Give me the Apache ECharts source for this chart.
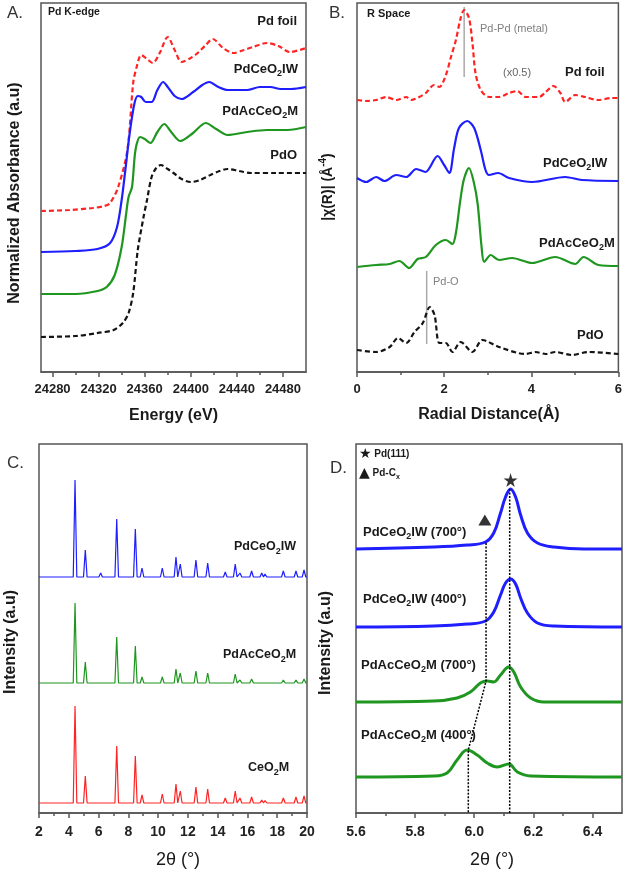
<!DOCTYPE html>
<html><head><meta charset="utf-8">
<script src="https://cdn.jsdelivr.net/npm/echarts@6/dist/echarts.min.js"></script>
<style>html,body{margin:0;padding:0;background:#fff}#c{width:625px;height:874px}</style>
</head><body><div id="c"></div>
<script>
// ---------- Panel A: XANES (energy eV, absorbance a.u. with offsets) ----------
const energyTicks = [24280, 24320, 24360, 24400, 24440, 24480];
const energyMinorTicks = [24300, 24340, 24380, 24420, 24460];
const xanesPdFoil = [[24270,161],[24295,162],[24315,164],[24325,166],[24330,169],[24337,185],[24345,222],[24350,289],[24353,305],[24357,317],[24362,313],[24367,309],[24373,319],[24380,335],[24386,322],[24392,310],[24400,314],[24406,319],[24413,327],[24419,333],[24428,324],[24437,319],[24446,322],[24454,325],[24466,329],[24476,326],[24486,320],[24500,324]];
const xanesPdCeO2IW = [[24270,120],[24300,121],[24319,123],[24330,129],[24336,145],[24340,172],[24343,200],[24347,239],[24351,268],[24354,276],[24357,275],[24361,270],[24366,270],[24371,282],[24376,290],[24380,285],[24386,276],[24392,273],[24402,280],[24410,287],[24416,290],[24424,285],[24432,282],[24449,282],[24460,285],[24469,285],[24478,283],[24487,283],[24500,285]];
const xanesPdAcCeO2M = [[24270,78],[24300,78],[24319,81],[24327,85],[24334,97],[24340,125],[24344,159],[24346,175],[24349,185],[24352,222],[24356,235],[24360,233],[24365,229],[24371,240],[24377,248],[24383,240],[24391,231],[24402,239],[24413,249],[24422,243],[24432,237],[24449,240],[24466,242],[24484,242],[24500,245]];
const xanesPdO = [[24270,35],[24300,36],[24319,39],[24333,42],[24341,49],[24346,59],[24350,79],[24354,122],[24359,155],[24362,172],[24366,195],[24370,204],[24374,207],[24380,203],[24385,199],[24392,193],[24400,190],[24408,192],[24417,197],[24425,201],[24432,203],[24442,201],[24452,199],[24475,199],[24500,199]];

// ---------- Panel B: R space |chi(R)| ----------
const rPdFoil = [[0,272],[0.21,271],[0.44,272],[0.67,275],[0.9,272],[1.13,275],[1.24,272],[1.43,275],[1.58,279],[1.77,287],[1.89,285],[2.04,297],[2.15,314],[2.27,332],[2.38,354],[2.46,362],[2.57,354],[2.65,329],[2.72,299],[2.84,282],[3.03,275],[3.26,275],[3.49,279],[3.68,281],[3.87,275],[4.18,275],[4.33,280],[4.51,286],[4.67,279],[4.78,270],[5.01,277],[5.24,275],[5.54,272],[5.85,274],[6,274]];
const rPdCeO2IW = [[0,194],[0.21,190],[0.44,195],[0.63,191],[0.9,197],[1.13,195],[1.36,203],[1.57,200],[1.85,216],[2.0,207],[2.12,199],[2.23,224],[2.34,244],[2.53,251],[2.69,244],[2.84,222],[2.95,202],[3.03,197],[3.24,199],[3.49,194],[4.02,190],[4.78,195],[5.16,192],[6,191]];
const rPdAcCeO2M = [[0,105],[0.44,107],[0.75,108],[0.97,111],[1.2,104],[1.39,113],[1.58,115],[1.81,127],[2.04,132],[2.19,128],[2.27,139],[2.36,168],[2.45,192],[2.57,204],[2.68,190],[2.77,168],[2.86,125],[2.92,110],[3.07,117],[3.26,112],[3.56,114],[4.02,109],[4.55,115],[5.01,108],[5.2,115],[5.54,107],[6,106]];
const rPdO = [[0,22],[0.44,20],[0.75,25],[0.94,34],[1.13,29],[1.32,40],[1.51,49],[1.67,65],[1.78,57],[1.89,29],[2.04,29],[2.19,20],[2.38,30],[2.65,20],[2.88,32],[3.26,25],[3.87,18],[4.1,20],[4.33,18],[4.55,20],[4.93,17],[5.31,20],[6,18]];
const rPdPdRef = [[2.46,295],[2.46,365]];
const rPdORef = [[1.6,28],[1.6,101]];

// ---------- Panel C: XRD peaks (2theta, heights per sample) ----------
const xrdPeaks = [3.3,4.42,5.11,6.14,7.22,8.47,8.92,10.28,11.2,11.49,12.54,13.33,14.51,15.18,15.5,16.28,16.96,17.18,17.85,18.41,19.26,19.8];
const xrdPdCeO2IW = [238,333,263,240,294,284,245,245,256,249,253,250,241,249,240,242,240,239,237,242,242,243];
const xrdPdAcCeO2M = [131,210,151,131.5,176,167,136,136,144,140,142,140,132,139,133,134,131.5,131,130.5,133,133,134];
const xrdCeO2M = [10.5,107,37,11,67,57,18,19,29,22,26,24,15,22,15,16,13,12.5,11,15,16,17];
const xrdBaseIW = 236, xrdBaseAc = 130, xrdBaseCe = 10;
const xrdPeakHalfWidth = 0.12;

// ---------- Panel D: zoomed XRD ----------
const thetaTicks = [5.6, 5.8, 6.0, 6.2, 6.4];
const thetaMinorTicks = [5.7, 5.9, 6.1, 6.3];
const dIW700 = [[5.6,264],[5.863,266],[5.976,268],[6.038,271],[6.066,280],[6.089,300],[6.106,316],[6.123,324],[6.14,316],[6.157,298],[6.18,280],[6.214,270],[6.27,266],[6.372,264],[6.5,264]];
const dIW400 = [[5.6,186],[5.863,187],[5.976,189],[6.038,192],[6.066,201],[6.089,218],[6.106,230],[6.123,234],[6.14,229],[6.157,215],[6.18,200],[6.214,190],[6.27,187],[6.5,186]];
const dAc700 = [[5.6,111],[5.863,112],[5.942,115],[5.987,121],[6.021,130],[6.044,132],[6.066,131],[6.089,138],[6.117,146],[6.134,141],[6.157,126],[6.191,115],[6.236,111],[6.5,111]];
const dAc400 = [[5.6,36],[5.863,37],[5.908,40],[5.942,53],[5.976,63],[6.01,58],[6.044,50],[6.078,46],[6.117,49],[6.146,41],[6.191,37],[6.5,36]];
const dGuidePdCx = [[6.04,270],[6.04,132],[5.98,63],[5.98,0]];
const dGuidePd111 = [[6.12,324],[6.12,0]];
const dStar = [[6.123,333]];
const dTriangle = [[6.036,293]];

// ---------- build ----------
const F = "'Liberation Sans', Arial, Helvetica, sans-serif";
const RED = '#ff2424', BLUE = '#1e1eff', GREEN = '#1f961f', BLACK = '#141414', AX = '#555';

function xrdLine(heights, base) {
  const pts = [[2, base]];
  xrdPeaks.forEach((p, i) => {
    pts.push([p - xrdPeakHalfWidth, base], [p, heights[i]], [p + xrdPeakHalfWidth, base]);
  });
  pts.push([20, base]);
  return pts;
}

function rich(size, weight, color) {
  const lh = size + 5;
  return {
    b: {fontSize: size, fontWeight: weight, fontFamily: F, fill: color, color: color, lineHeight: lh},
    s: {fontSize: Math.round(size * 0.68), fontWeight: weight, fontFamily: F, fill: color, color: color, verticalAlign: 'bottom', lineHeight: lh},
    p: {fontSize: Math.round(size * 0.68), fontWeight: weight, fontFamily: F, fill: color, color: color, verticalAlign: 'top', lineHeight: lh},
    y: {fontSize: Math.round(size * 1.35), fontFamily: "'DejaVu Sans', sans-serif", fill: color, color: color, lineHeight: lh}
  };
}
function txt(x, y, text, o) {
  o = o || {};
  const size = o.size || 13, weight = o.weight || 'bold', color = o.color || '#1a1a1a';
  const align = o.align || 'left';
  return {
    type: 'text', x: x, y: y, rotation: o.rot || 0, silent: true, z: 100,
    style: {text: text, rich: rich(size, weight, color), align: align, textAlign: align,
            verticalAlign: 'middle', textVerticalAlign: 'middle', fill: color,
            font: weight + ' ' + size + 'px ' + F}
  };
}
const IW = '{b|PdCeO}{s|2}{b|IW}';
const AC = '{b|PdAcCeO}{s|2}{b|M}';

const grids = [
  {left: 41, top: 3, width: 265, height: 369},
  {left: 357, top: 3, width: 264, height: 369},
  {left: 39, top: 444, width: 268, height: 369},
  {left: 356, top: 444, width: 266, height: 369}
].map(g => Object.assign(g, {show: true, borderColor: AX, borderWidth: 1.5, containLabel: false}));

const axisLine = {show: true, lineStyle: {color: AX, width: 1.5}};
const tickStyle = {color: AX, width: 1.5};
const labelStyle = {color: '#222', fontWeight: 'bold', fontSize: 13, fontFamily: F, margin: 11};

const xAxes = [
  {gridIndex: 0, type: 'value', position: 'bottom', min: 24270, max: 24500, axisLine: axisLine,
   axisTick: {show: true, customValues: energyTicks, length: 5, lineStyle: tickStyle},
   axisLabel: Object.assign({customValues: energyTicks, formatter: v => String(Math.round(v))}, labelStyle),
   splitLine: {show: false}},
  {gridIndex: 0, type: 'value', position: 'bottom', offset: 0, min: 24270, max: 24500, axisLine: {show: false},
   axisTick: {show: true, customValues: energyMinorTicks, length: 3, lineStyle: tickStyle},
   axisLabel: {show: false}, splitLine: {show: false}},
  {gridIndex: 1, type: 'value', position: 'bottom', min: 0, max: 6, interval: 2, axisLine: axisLine,
   axisTick: {show: true, length: 5, lineStyle: tickStyle},
   minorTick: {show: true, splitNumber: 2, length: 3, lineStyle: tickStyle},
   axisLabel: labelStyle, splitLine: {show: false}},
  {gridIndex: 2, type: 'value', position: 'bottom', min: 2, max: 20, interval: 2, axisLine: axisLine,
   axisTick: {show: true, length: 5, lineStyle: tickStyle},
   minorTick: {show: true, splitNumber: 2, length: 3, lineStyle: tickStyle},
   axisLabel: Object.assign({}, labelStyle, {fontSize: 14, margin: 12}), splitLine: {show: false}},
  {gridIndex: 3, type: 'value', position: 'bottom', min: 5.6, max: 6.5, axisLine: axisLine,
   axisTick: {show: true, customValues: thetaTicks, length: 5, lineStyle: tickStyle},
   axisLabel: Object.assign({customValues: thetaTicks, formatter: v => Number(v).toFixed(1)}, labelStyle, {fontSize: 14, margin: 12}),
   splitLine: {show: false}},
  {gridIndex: 3, type: 'value', position: 'bottom', offset: 0, min: 5.6, max: 6.5, axisLine: {show: false},
   axisTick: {show: true, customValues: thetaMinorTicks, length: 3, lineStyle: tickStyle},
   axisLabel: {show: false}, splitLine: {show: false}}
];
const yAxes = [0, 1, 2, 3].map(i => ({gridIndex: i, type: 'value', min: 0, max: 369,
  axisLine: {show: false}, axisTick: {show: false}, axisLabel: {show: false}, splitLine: {show: false}}));

function line(data, xi, yi, color, width, dash, smooth) {
  return {type: 'line', data: data, xAxisIndex: xi, yAxisIndex: yi, showSymbol: false, symbol: 'none',
    smooth: smooth === undefined ? 0.3 : smooth, silent: true,
    lineStyle: {color: color, width: width, type: dash || 'solid'}};
}

const series = [
  line(xanesPdFoil, 0, 0, RED, 2.2, [5, 3]),
  line(xanesPdCeO2IW, 0, 0, BLUE, 2.2),
  line(xanesPdAcCeO2M, 0, 0, GREEN, 2.2),
  line(xanesPdO, 0, 0, BLACK, 2.2, [5, 3]),
  line(rPdPdRef, 2, 1, '#aaaaaa', 1.5, 'solid', false),
  line(rPdORef, 2, 1, '#aaaaaa', 1.5, 'solid', false),
  line(rPdFoil, 2, 1, RED, 2.2, [5, 3]),
  line(rPdCeO2IW, 2, 1, BLUE, 2.2),
  line(rPdAcCeO2M, 2, 1, GREEN, 2.2),
  line(rPdO, 2, 1, BLACK, 2.2, [5, 3]),
  line(xrdLine(xrdPdCeO2IW, xrdBaseIW), 3, 2, BLUE, 1.2, 'solid', false),
  line(xrdLine(xrdPdAcCeO2M, xrdBaseAc), 3, 2, GREEN, 1.2, 'solid', false),
  line(xrdLine(xrdCeO2M, xrdBaseCe), 3, 2, RED, 1.2, 'solid', false),
  line(dIW700, 4, 3, BLUE, 3, 'solid', 0.4),
  line(dIW400, 4, 3, BLUE, 3, 'solid', 0.4),
  line(dAc700, 4, 3, GREEN, 3, 'solid', 0.4),
  line(dAc400, 4, 3, GREEN, 3, 'solid', 0.4),
  line(dGuidePdCx, 4, 3, '#000', 1.5, [2, 1.5], false),
  line(dGuidePd111, 4, 3, '#000', 1.5, [2, 1.5], false),
  {type: 'scatter', xAxisIndex: 4, yAxisIndex: 3, data: dStar, silent: true,
   symbol: 'path://M50 0 L61 35 L98 35 L68 57 L79 91 L50 70 L21 91 L32 57 L2 35 L39 35 Z',
   symbolSize: 14, itemStyle: {color: '#000'}},
  {type: 'scatter', xAxisIndex: 4, yAxisIndex: 3, data: dTriangle, silent: true,
   symbol: 'triangle', symbolSize: [13, 11], itemStyle: {color: '#000'}}
];

const graphic = [
  // Panel A
  txt(7, 13, '{b|A.}', {size: 17, weight: 'normal', color: '#333'}),
  txt(48, 12, '{b|Pd K-edge}', {size: 10.5}),
  txt(297, 21, '{b|Pd foil}', {align: 'right'}),
  txt(298, 69, IW, {align: 'right'}),
  txt(298, 111, AC, {align: 'right'}),
  txt(297, 155, '{b|PdO}', {align: 'right'}),
  txt(173.5, 416, '{b|Energy (eV)}', {size: 16, align: 'center'}),
  txt(15, 193, '{b|Normalized Absorbance (a.u)}', {size: 16, align: 'center', rot: Math.PI / 2}),
  // Panel B
  txt(329, 13, '{b|B.}', {size: 17, weight: 'normal', color: '#333'}),
  txt(367, 14, '{b|R Space}', {size: 11}),
  txt(480, 29, '{b|Pd-Pd (metal)}', {size: 11, weight: 'normal', color: '#808080'}),
  txt(503, 73, '{b|(x0.5)}', {size: 11, weight: 'normal', color: '#666'}),
  txt(565, 72, '{b|Pd foil}'),
  txt(543, 163, IW),
  txt(539, 243, AC),
  txt(577, 335, '{b|PdO}'),
  txt(433, 282, '{b|Pd-O}', {size: 11, weight: 'normal', color: '#808080'}),
  txt(489, 415, '{b|Radial Distance(Å)}', {size: 16, align: 'center'}),
  txt(328, 187, '{b||χ(R)| (Å}{p|-4}{b|)}', {size: 14, align: 'center', rot: Math.PI / 2}),
  // Panel C
  txt(7, 463, '{b|C.}', {size: 17, weight: 'normal', color: '#333'}),
  txt(234, 547, IW, {size: 12.5}),
  txt(223, 655, AC, {size: 12.5}),
  txt(248, 768, '{b|CeO}{s|2}{b|M}', {size: 12.5}),
  txt(178, 860, '{b|2θ (°)}', {size: 18, weight: 'normal', align: 'center'}),
  txt(11, 642, '{b|Intensity (a.u)}', {size: 16, align: 'center', rot: Math.PI / 2}),
  // Panel D
  txt(330, 468, '{b|D.}', {size: 17, weight: 'normal', color: '#333'}),
  txt(359, 454, '{y|★} {b|Pd(111)}', {size: 10}),
  txt(359, 473, '{y|▲} {b|Pd-C}{s|x}', {size: 10}),
  txt(363, 532, IW + '{b| (700°)}'),
  txt(363, 599, IW + '{b| (400°)}'),
  txt(361, 665, AC + '{b| (700°)}'),
  txt(361, 735, AC + '{b| (400°)}'),
  txt(492, 860, '{b|2θ (°)}', {size: 18, weight: 'normal', align: 'center'}),
  txt(326, 643, '{b|Intensity (a.u)}', {size: 16, align: 'center', rot: Math.PI / 2})
];

const chart = echarts.init(document.getElementById('c'), null, {renderer: 'canvas'});
chart.setOption({animation: false, backgroundColor: '#fff', grid: grids, xAxis: xAxes, yAxis: yAxes, series: series, graphic: graphic});
</script></body></html>
